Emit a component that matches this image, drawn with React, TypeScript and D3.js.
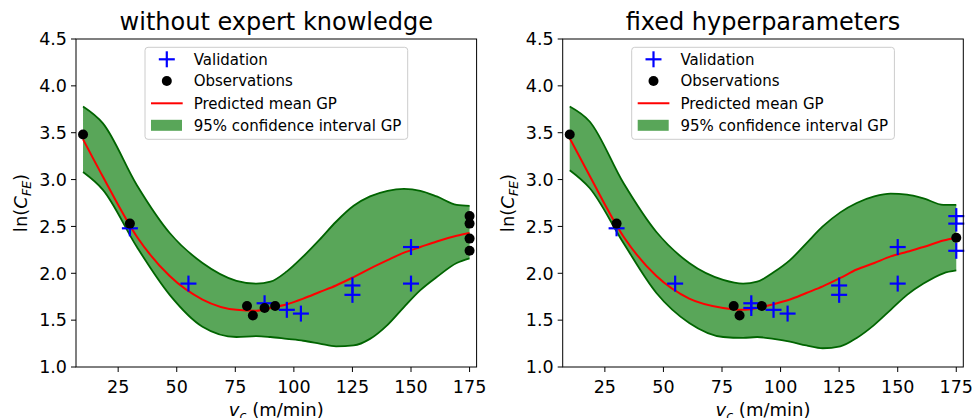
import React from "react";
import * as d3 from "d3";

const gridV = [10, 18.5, 33, 47, 61, 75.5, 84, 90, 97, 104, 111, 118, 125.5, 132.5, 140, 147, 154, 161, 169.5, 175];

// panel 1: without expert knowledge
const meanA = [3.43, 3.03, 2.39, 1.97, 1.72, 1.61, 1.6, 1.63, 1.67, 1.73, 1.8, 1.87, 1.96, 2.05, 2.14, 2.22, 2.28, 2.34, 2.4, 2.43];
const upperA = [3.78, 3.6, 2.94, 2.43, 2.11, 1.92, 1.89, 1.91, 2.02, 2.18, 2.36, 2.55, 2.72, 2.82, 2.88, 2.9, 2.88, 2.82, 2.73, 2.72];
const lowerA = [3.08, 2.89, 2.28, 1.77, 1.43, 1.32, 1.33, 1.32, 1.3, 1.28, 1.25, 1.22, 1.23, 1.3, 1.45, 1.64, 1.82, 1.96, 2.11, 2.16];
const obsXA = [10, 30, 80, 82.5, 87.5, 92, 175, 175, 175, 175];
const obsYA = [3.48, 2.53, 1.65, 1.55, 1.63, 1.65, 2.61, 2.53, 2.37, 2.24];
const valXA = [30, 55, 87.5, 97, 103, 125, 125, 150, 150];
const valYA = [2.48, 1.89, 1.68, 1.61, 1.57, 1.87, 1.77, 2.28, 1.89];

// panel 2: fixed hyperparameters
const meanB = [3.44, 3.04, 2.39, 1.97, 1.73, 1.63, 1.61, 1.63, 1.67, 1.72, 1.79, 1.86, 1.95, 2.04, 2.11, 2.18, 2.23, 2.28, 2.35, 2.38];
const upperB = [3.78, 3.62, 2.96, 2.44, 2.11, 1.93, 1.89, 1.91, 2.01, 2.14, 2.32, 2.5, 2.65, 2.75, 2.82, 2.85, 2.84, 2.8, 2.73, 2.73];
const lowerB = [3.1, 2.91, 2.32, 1.79, 1.47, 1.32, 1.31, 1.32, 1.3, 1.27, 1.23, 1.2, 1.22, 1.31, 1.45, 1.61, 1.77, 1.89, 2.0, 2.03];
const obsXB = [10, 30, 80, 82.5, 92, 175];
const obsYB = [3.48, 2.53, 1.65, 1.55, 1.65, 2.38];
const valXB = [30, 55, 87.5, 87.5, 97, 103, 125, 125, 150, 150, 175, 175, 175];
const valYB = [2.48, 1.89, 1.68, 1.63, 1.61, 1.57, 1.87, 1.77, 2.28, 1.89, 2.61, 2.53, 2.24];

const xTicks = [25, 50, 75, 100, 125, 150, 175];
const yTicks = [1.0, 1.5, 2.0, 2.5, 3.0, 3.5, 4.0, 4.5];
const legendLabels = ["Validation", "Observations", "Predicted mean GP", "95% confidence interval GP"];

const FONT = "DejaVu Sans, sans-serif";
const FILL = "#59a659";
const EDGE = "#006400";

type PanelProps = {
  left: number;
  title: string;
  mean: number[];
  upper: number[];
  lower: number[];
  obsX: number[];
  obsY: number[];
  valX: number[];
  valY: number[];
};

const Cross = ({ cx, cy, s }: { cx: number; cy: number; s: number }) => (
  <g stroke="#0000ff" strokeWidth={2.2}>
    <line x1={cx - s} x2={cx + s} y1={cy} y2={cy} />
    <line x1={cx} x2={cx} y1={cy - s} y2={cy + s} />
  </g>
);

const Panel = (props: PanelProps) => {
  const w = 400.6;
  const top = 39;
  const h = 328;
  const x = d3.scaleLinear().domain([7, 178]).range([0, w]);
  const y = d3.scaleLinear().domain([1, 4.5]).range([h, 0]);

  const band = d3
    .area<number>()
    .x((_, i) => x(gridV[i]))
    .y0((_, i) => y(props.lower[i]))
    .y1((_, i) => y(props.upper[i]))
    .curve(d3.curveMonotoneX);
  const line = (vals: number[]) =>
    d3
      .line<number>()
      .x((_, i) => x(gridV[i]))
      .y((d) => y(d))
      .curve(d3.curveMonotoneX)(vals) || "";

  const lgX = w / 2 - 131.3;
  const lgY = 8.3;
  const rowY = [20.3, 42, 64.3, 86.3];

  return (
    <g transform={`translate(${props.left},${top})`} fontFamily={FONT}>
      <text x={w / 2} y={-9} textAnchor="middle" fontSize={24} fill="#000">
        {props.title}
      </text>
      <path d={band(props.mean) || ""} fill={FILL} stroke="none" />
      <path d={line(props.upper)} fill="none" stroke={EDGE} strokeWidth={1.8} />
      <path d={line(props.lower)} fill="none" stroke={EDGE} strokeWidth={1.8} />
      <path d={line(props.mean)} fill="none" stroke="#ff0000" strokeWidth={2} />
      {props.valX.map((v, i) => (
        <Cross key={"v" + i} cx={x(v)} cy={y(props.valY[i])} s={8} />
      ))}
      {props.obsX.map((v, i) => (
        <circle key={"o" + i} cx={x(v)} cy={y(props.obsY[i])} r={5} fill="#000" />
      ))}

      {/* axes frame */}
      <rect x={0} y={0} width={w} height={h} fill="none" stroke="#000" strokeWidth={1} />
      {yTicks.map((t) => (
        <g key={"y" + t} transform={`translate(0,${y(t)})`}>
          <line x1={-5} x2={0} stroke="#000" />
          <text x={-9} dy="0.36em" textAnchor="end" fontSize={17.5}>
            {t.toFixed(1)}
          </text>
        </g>
      ))}
      {xTicks.map((t) => (
        <g key={"x" + t} transform={`translate(${x(t)},${h})`}>
          <line y1={0} y2={5} stroke="#000" />
          <text y={25.5} textAnchor="middle" fontSize={17.5}>
            {t}
          </text>
        </g>
      ))}
      <text x={w / 2} y={h + 49} textAnchor="middle" fontSize={18}>
        <tspan fontStyle="italic">v</tspan>
        <tspan fontStyle="italic" fontSize={12.6} dy={4}>c</tspan>
        <tspan dy={-4}> (m/min)</tspan>
      </text>
      <text
        transform={`translate(${-props.left + (props.left > 300 ? 513.5 : 27)},${h / 2}) rotate(-90)`}
        textAnchor="middle"
        fontSize={18}
      >
        ln(<tspan fontStyle="italic">C</tspan>
        <tspan fontStyle="italic" fontSize={12.6} dy={4}>FE</tspan>
        <tspan dy={-4}>)</tspan>
      </text>

      {/* legend */}
      <g transform={`translate(${lgX},${lgY})`}>
        <rect width={262.7} height={92} rx={3} fill="#fff" fillOpacity={0.8} stroke="#cccccc" />
        <Cross cx={21.8} cy={rowY[0] - lgY} s={8} />
        <circle cx={21.8} cy={rowY[1] - lgY} r={5} fill="#000" />
        <line x1={6} x2={37.7} y1={rowY[2] - lgY} y2={rowY[2] - lgY} stroke="#ff0000" strokeWidth={2} />
        <rect x={6} y={rowY[3] - lgY - 5.5} width={31} height={11} fill={FILL} />
        {legendLabels.map((l, i) => (
          <text key={l} x={48.7} y={rowY[i] - lgY} dy="0.36em" fontSize={15}>
            {l}
          </text>
        ))}
      </g>
    </g>
  );
};

const App = () => (
  <svg width={973} height={418} style={{ position: "absolute", left: 0, top: 0 }}>
    <rect width={973} height={418} fill="#fff" />
    <Panel
      left={76}
      title="without expert knowledge"
      mean={meanA}
      upper={upperA}
      lower={lowerA}
      obsX={obsXA}
      obsY={obsYA}
      valX={valXA}
      valY={valYA}
    />
    <Panel
      left={562.7}
      title="fixed hyperparameters"
      mean={meanB}
      upper={upperB}
      lower={lowerB}
      obsX={obsXB}
      obsY={obsYB}
      valX={valXB}
      valY={valYB}
    />
  </svg>
);

export default App;
